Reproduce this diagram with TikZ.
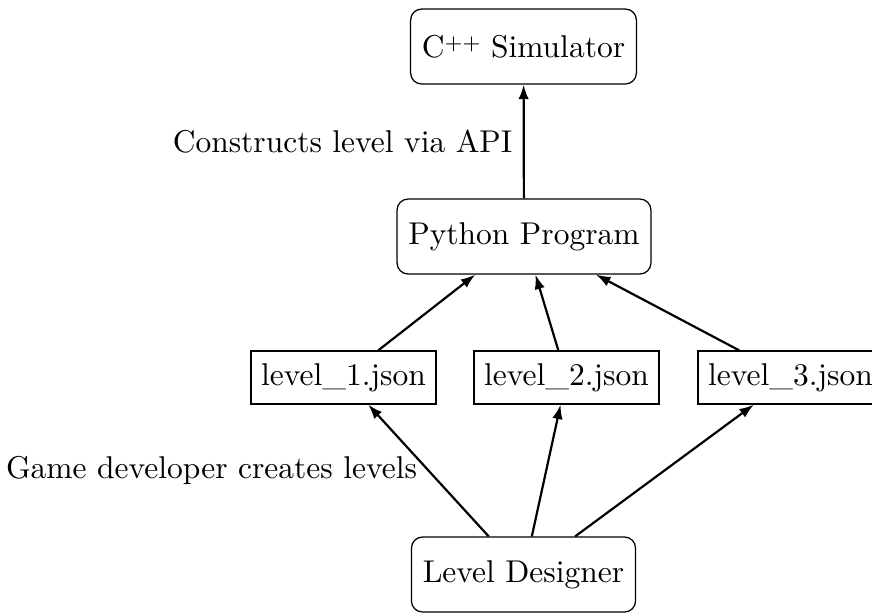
\documentclass[tikz,border=0pt]{standalone}
\usetikzlibrary{arrows.meta}
\begin{document}
\begin{tikzpicture}[x=0.3175pt,y=-0.3175pt,
  rbox/.style={draw,line width=0.4pt,rounded corners=3.5pt,minimum height=23.8pt,inner xsep=3.6pt},
  fbox/.style={draw,line width=0.4pt,minimum height=16.8pt,minimum width=58.7pt,inner sep=2pt},
  conn/.style={line width=0.7pt,-{Latex[length=4.6pt,width=3.3pt]}},
  lab/.style={midway,left,inner sep=3.3pt}]
\useasboundingbox (0,0) rectangle (872,615);
\node[rbox,minimum width=71.4pt] (sim) at (523.5,46.5) {C\raisebox{2.5pt}{\fontsize{6.5}{7}\selectfont++} Simulator};
\node[rbox] (py) at (524,236.5) {Python Program};
\node[fbox] (l1) at (343.5,377.5) {level\_1.json};
\node[fbox] (l2) at (566.5,377.5) {level\_2.json};
\node[fbox] (l3) at (790.5,377.5) {level\_3.json};
\node[rbox] (ld) at (523.5,574.5) {Level Designer};
\draw[conn] (py) -- node[lab] (lapi) {Constructs level via API} (sim);
\draw[conn] (l1) -- (py);
\draw[conn] (l2) -- (py);
\draw[conn] (l3) -- (py);
\draw[conn] (ld) -- node[lab] (ldev) {Game developer creates levels} (l1);
\draw[conn] (ld) -- (l2);
\draw[conn] (ld) -- (l3);
\end{tikzpicture}
\end{document}
